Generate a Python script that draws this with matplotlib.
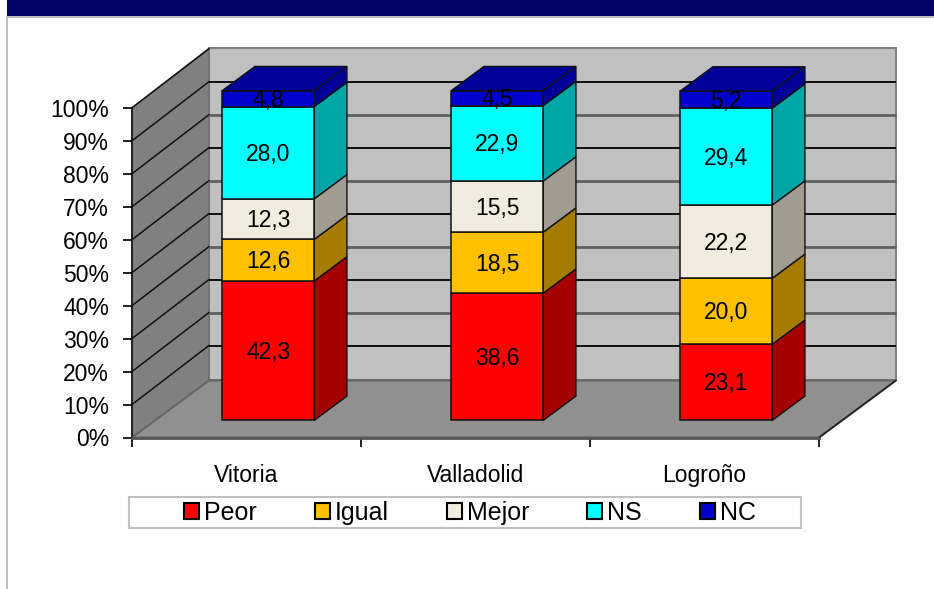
import matplotlib
matplotlib.use('Agg')
import matplotlib.pyplot as plt
from matplotlib.patches import Polygon, Rectangle, Patch

plt.rcParams['font.family'] = ['Liberation Sans', 'DejaVu Sans']

# datos
ciudades = ['Vitoria', 'Valladolid', 'Logroño']
categorias = ['Peor', 'Igual', 'Mejor', 'NS', 'NC']
peor = [42.3, 38.6, 23.1]
igual = [12.6, 18.5, 20.0]
mejor = [12.3, 15.5, 22.2]
ns = [28.0, 22.9, 29.4]
nc = [4.8, 4.5, 5.2]
series = [peor, igual, mejor, ns, nc]
ticks_y = [0, 10, 20, 30, 40, 50, 60, 70, 80, 90, 100]

# colores: frente, lateral
frente = ['#ff0000', '#ffc000', '#f0ece0', '#00ffff', '#0000cc']
lateral = ['#a50000', '#a67c00', '#a09c92', '#00a5a5', '#000099']

W, H = 934, 589
# perspectiva: desplazamiento del fondo en unidades de datos
DX = 0.336
DY = 17.3
D0, D1 = 0.30, 0.725   # profundidad de las barras
ANCHO = 0.402


def p(x, y, d=0.0):
    return (x + d * DX, y + d * DY)


fig = plt.figure(figsize=(W / 100, H / 100), dpi=100, facecolor='white')
ax = fig.add_axes([132 / W, 1 - 437.5 / H, 687 / W, 329.7 / H])
ax.set_xlim(0, 3)
ax.set_ylim(0, 100)
ax.patch.set_visible(False)

# cabecera y borde de la pagina
fig.add_artist(Rectangle((7 / W, 1 - 16 / H), 1, 16 / H, transform=fig.transFigure, fc='#000066', ec='none'))
fig.add_artist(Rectangle((7 / W, 1 - 17.5 / H), 1, 1.5 / H, transform=fig.transFigure, fc='#c0c0c0', ec='none'))
fig.add_artist(Rectangle((6 / W, 0), 1.5 / W, 1 - 16 / H, transform=fig.transFigure, fc='#c0c0c0', ec='none'))

# paredes y suelo
techo = 100.7
ax.add_patch(Polygon([p(0, 0, 1), p(3, 0, 1), p(3, techo, 1), p(0, techo, 1)], fc='#c0c0c0', ec='#808080', lw=1.5, clip_on=False, zorder=1))
ax.add_patch(Polygon([p(0, 0), p(0, 0, 1), p(0, techo, 1), p(0, 100)], fc='#808080', ec='#707070', lw=1.0, clip_on=False, zorder=1))
ax.add_patch(Polygon([p(0, 0), p(3, 0), p(3, 0, 1), p(0, 0, 1)], fc='#909090', ec='#666666', lw=1.5, clip_on=False, zorder=1))
x_d, y_d = zip(p(3, 0), p(3, 0, 1))
ax.plot(x_d, y_d, color='#222222', lw=1.2, clip_on=False, zorder=2)

# rejilla
for v in ticks_y[1:]:
    fuerte = v % 20 == 10
    x_l, y_l = zip(p(0, v), p(0, v + 0.6, 1))
    ax.plot(x_l, y_l, color='#111111', lw=1.1, clip_on=False, zorder=2)
    if v < 100:
        x_b, y_b = zip(p(0, v + 0.6, 1), p(3, v + 0.6, 1))
        ax.plot(x_b, y_b, color='#000000' if fuerte else '#606060', lw=1.3 if fuerte else 2.0,
                solid_capstyle='butt', clip_on=False, zorder=2)

# barras apiladas
for i, ciudad in enumerate(ciudades):
    x0 = i + 0.5 - 0.006 - ANCHO / 2
    x1 = x0 + ANCHO
    base = 0.0
    for j, serie in enumerate(series):
        alto = serie[i]
        tope = base + alto
        z = 3 + j * 0.1
        ax.add_patch(Polygon([p(x0, base, D0), p(x1, base, D0), p(x1, tope, D0), p(x0, tope, D0)],
                             fc=frente[j], ec='#111111', lw=1.1, clip_on=False, zorder=z + 0.05))
        ax.add_patch(Polygon([p(x1, base, D0), p(x1, base, D1), p(x1, tope, D1), p(x1, tope, D0)],
                             fc=lateral[j], ec='#111111', lw=1.0, clip_on=False, zorder=z))
        etiqueta = f'{alto:.1f}'.replace('.', ',')
        xt, yt = p((x0 + x1) / 2, base + alto / 2 - 0.45, D0)
        ax.text(xt, yt, etiqueta, ha='center', va='center', fontsize=16.5, color='black', zorder=6)
        base = tope
    ax.add_patch(Polygon([p(x0, base, D0), p(x1, base, D0), p(x1, base, D1), p(x0, base, D1)],
                         fc=lateral[-1], ec='#111111', lw=1.0, clip_on=False, zorder=4.5))

# ejes
for lado in ['top', 'right']:
    ax.spines[lado].set_visible(False)
ax.spines['left'].set_color('#111111')
ax.spines['left'].set_linewidth(1.2)
ax.spines['bottom'].set_color('#555555')
ax.spines['bottom'].set_linewidth(2.0)
ax.set_yticks(ticks_y)
ax.set_yticklabels([f'{v}%' for v in ticks_y], fontsize=16.5)
ax.set_xticks([0, 1, 2, 3])
ax.set_xticklabels([])
ax.set_xticks([0.5, 1.5, 2.5], minor=True)
ax.set_xticklabels(ciudades, minor=True, fontsize=16.5)
ax.tick_params(axis='y', length=6.5, width=1.3, pad=10, color='#111111')
ax.tick_params(axis='x', which='major', length=6.5, width=1.3, color='#111111')
ax.tick_params(axis='x', which='minor', length=0, pad=19)

# leyenda
fig.add_artist(Rectangle((129 / W, 1 - 528 / H), 672 / W, 31 / H, transform=fig.transFigure,
                         fc='white', ec='#c0c0c0', lw=1.5))
handles = [Patch(fc=c, ec='black', lw=1.5, label=n) for c, n in zip(frente, categorias)]
fig.legend(handles=handles, loc='center', bbox_to_anchor=(470 / W, 1 - 513 / H), ncol=5, frameon=False,
           fontsize=18, handlelength=0.6, handleheight=0.6, handletextpad=0.2, columnspacing=2.32,
           borderpad=0, borderaxespad=0)

fig.savefig('out.png', dpi=100)
